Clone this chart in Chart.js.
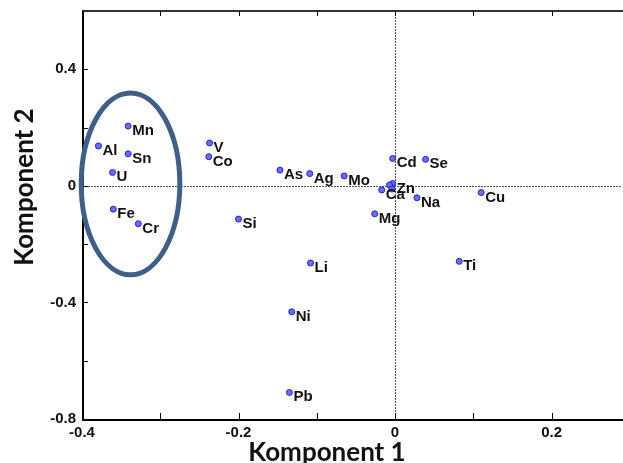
<!DOCTYPE html>
<html><head><meta charset="utf-8">
<script src="https://cdn.jsdelivr.net/npm/chart.js@4.4.1/dist/chart.umd.min.js"></script>
<style>html,body{margin:0;padding:0;background:#fff}canvas{display:block}</style>
</head><body>
<canvas id="c" width="623" height="463"></canvas>
<script>
// ---- data ----
const elements = ['Mn','Al','Sn','U','Fe','Cr','V','Co','As','Ag','Si','Mo','Cd','Se','Zn','','Ca','','Na','Cu','Mg','Li','Ni','Pb','Ti'];
const comp1 = [-0.341,-0.379,-0.341,-0.361,-0.360,-0.328,-0.237,-0.238,-0.147,-0.109,-0.200,-0.065,-0.003,0.039,-0.003,-0.007,-0.017,-0.004,0.028,0.110,-0.026,-0.108,-0.132,-0.135,0.082];
const comp2 = [0.205,0.137,0.110,0.046,-0.080,-0.130,0.147,0.100,0.054,0.042,-0.114,0.034,0.094,0.091,0.008,0.003,-0.014,-0.011,-0.041,-0.023,-0.096,-0.265,-0.432,-0.709,-0.259];
const xTickValues = [-0.4,-0.3,-0.2,-0.1,0,0.1,0.2];
const xTickLabels = [-0.4,-0.2,0,0.2];
const yTickValues = [-0.8,-0.6,-0.4,-0.2,0,0.2,0.4];
const yTickLabels = [-0.8,-0.4,0,0.4];
const xRange = [-0.4, 0.29];
const yRange = [-0.8, 0.6];
const ellipseCenter = [-0.338, 0.007];
const ellipseRadii = [0.063, 0.312];
const xTitle = 'Komponent 1';
const yTitle = 'Komponent 2';

const points = comp1.map((x,i)=>({x:x, y:comp2[i]}));
const fmt = v => v === 0 ? '0' : v.toFixed(1);

const decor = {
  id:'decor',
  beforeDatasetsDraw(chart){
    const {ctx, chartArea:a, scales:{x,y}} = chart;
    ctx.save();
    // zero lines
    ctx.strokeStyle = '#555';
    ctx.lineWidth = 1;
    ctx.setLineDash([2,1]);
    const x0 = Math.round(x.getPixelForValue(0))+0.5;
    const y0 = Math.round(y.getPixelForValue(0))+0.5;
    ctx.beginPath(); ctx.moveTo(x0,a.top); ctx.lineTo(x0,a.bottom); ctx.stroke();
    ctx.beginPath(); ctx.moveTo(a.left,y0); ctx.lineTo(a.right,y0); ctx.stroke();
    ctx.setLineDash([]);
    // axes frame
    ctx.strokeStyle = '#000';
    ctx.lineWidth = 2;
    ctx.beginPath(); ctx.moveTo(a.left+1,a.top); ctx.lineTo(a.left+1,a.bottom+1); ctx.lineTo(a.right+2,a.bottom+1); ctx.stroke();
    ctx.strokeStyle = '#333';
    ctx.beginPath(); ctx.moveTo(a.left,a.top); ctx.lineTo(a.right+2,a.top); ctx.stroke();
    // inside ticks
    ctx.lineWidth = 1;
    ctx.strokeStyle = '#000';
    xTickValues.forEach(v=>{
      const px = Math.round(x.getPixelForValue(v))+0.5;
      ctx.beginPath(); ctx.moveTo(px,a.bottom); ctx.lineTo(px,a.bottom-6); ctx.stroke();
      ctx.beginPath(); ctx.moveTo(px,a.top); ctx.lineTo(px,a.top+5); ctx.stroke();
    });
    yTickValues.forEach(v=>{
      const py = Math.round(y.getPixelForValue(v))+0.5;
      ctx.beginPath(); ctx.moveTo(a.left,py); ctx.lineTo(a.left+6,py); ctx.stroke();
    });
    ctx.restore();
  },
  afterDatasetsDraw(chart){
    const {ctx, scales:{x,y}} = chart;
    const meta = chart.getDatasetMeta(0);
    ctx.save();
    ctx.fillStyle = '#111';
    ctx.font = 'bold 15px "Liberation Sans", Arial, sans-serif';
    ctx.textAlign = 'left';
    ctx.textBaseline = 'alphabetic';
    meta.data.forEach((el,i)=>{
      if (!elements[i]) return;
      ctx.fillText(elements[i], el.x+4, el.y+9);
    });
    // ellipse
    const cx = x.getPixelForValue(ellipseCenter[0]);
    const cy = y.getPixelForValue(ellipseCenter[1]);
    const rx = Math.abs(x.getPixelForValue(ellipseCenter[0]+ellipseRadii[0]) - cx);
    const ry = Math.abs(y.getPixelForValue(ellipseCenter[1]+ellipseRadii[1]) - cy);
    ctx.strokeStyle = '#3d5f8a';
    ctx.lineWidth = 5;
    ctx.beginPath(); ctx.ellipse(cx,cy,rx,ry,0,0,Math.PI*2); ctx.stroke();
    // axis titles
    ctx.fillStyle = '#111';
    ctx.font = 'bold 26px Lato, "Open Sans", sans-serif';
    ctx.textAlign = 'center';
    ctx.fillText(xTitle, 327, 461);
    ctx.translate(33, 187);
    ctx.rotate(-Math.PI/2);
    ctx.fillText(yTitle, 0, 0);
    ctx.restore();
  }
};

new Chart(document.getElementById('c'), {
  type:'scatter',
  data:{datasets:[{
    data: points,
    pointRadius: 3,
    pointHoverRadius: 3,
    borderWidth: 1,
    backgroundColor:'#6b6bff',
    borderColor:'#2222d0'
  }]},
  options:{
    responsive:false,
    devicePixelRatio:1,
    animation:false,
    events:[],
    layout:{autoPadding:false, padding:{top:11,right:1,left:0,bottom:0}},
    plugins:{legend:{display:false}, tooltip:{enabled:false}},
    scales:{
      x:{
        type:'linear', min:xRange[0], max:xRange[1],
        border:{display:false},
        grid:{display:false, drawTicks:false},
        afterBuildTicks(s){ s.ticks = xTickLabels.map(v=>({value:v})); },
        afterFit(s){ s.height = 44; s.paddingLeft = 0; s.paddingRight = 0; },
        ticks:{ padding:5, color:'#111', maxRotation:0, autoSkip:false,
          font:{family:'"Liberation Sans", Arial, sans-serif', size:15, weight:'bold'},
          callback:v=>fmt(v) }
      },
      y:{
        type:'linear', min:yRange[0], max:yRange[1],
        border:{display:false},
        grid:{display:false, drawTicks:false},
        afterBuildTicks(s){ s.ticks = yTickLabels.map(v=>({value:v})); },
        afterFit(s){ s.width = 82; s.paddingTop = 0; s.paddingBottom = 0; },
        ticks:{ padding:6, color:'#111', autoSkip:false,
          font:{family:'"Liberation Sans", Arial, sans-serif', size:15, weight:'bold'},
          callback:v=>fmt(v) }
      }
    }
  },
  plugins:[decor]
});
</script>
</body></html>
